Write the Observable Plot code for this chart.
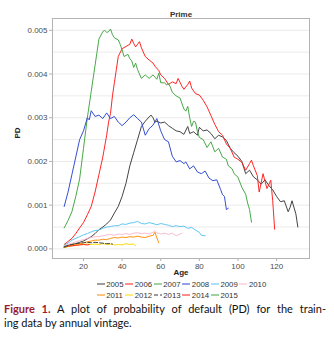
<!DOCTYPE html>
<html>
<head>
<meta charset="utf-8">
<script src="https://cdn.jsdelivr.net/npm/d3@7"></script>
<script src="https://cdn.jsdelivr.net/npm/@observablehq/plot@0.6"></script>
<style>
  html, body { margin: 0; padding: 0; background: #fff; }
  #wrap { position: relative; width: 334px; height: 344px; overflow: hidden; }
  #chart { position: absolute; left: 0; top: 0; }
  #legend { position: absolute; left: 96.7px; top: 280px; font-family: "Liberation Sans", Arial, sans-serif; font-size: 7.8px; color: #333; line-height: 10.7px; white-space: nowrap; }
  .row { height: 10.7px; }
  .item { display: inline-block; width: 28.55px; }
  .item svg { vertical-align: middle; margin-right: 1.5px; position: relative; top: -1px; }
  #caption { position: absolute; left: 4px; top: 302px; width: 322px; font-family: Lato, sans-serif; font-size: 11px; line-height: 14px; color: #111; }
  #caption .l1 { text-align: justify; text-align-last: justify; white-space: nowrap; }
  #caption b { color: #9b1b30; }
</style>
</head>
<body>
<div id="wrap">
  <div id="chart"></div>
  <div id="legend"></div>
  <div id="caption"><div class="l1"><b>Figure 1.</b> A plot of probability of default (PD) for the train-</div><div>ing data by annual vintage.</div></div>
</div>
<script>
const vintages = ["2005","2006","2007","2008","2009","2010","2011","2012","2013","2014","2015"];
const colors = ["#3a3a3a","#ff1a1a","#3fa33f","#2a45d0","#55c3f2","#f7b8cc","#ff8c00","#ffd700","#3a3a3a","#ff1a1a","#3fa33f"];
const yTicks = [0, 0.001, 0.002, 0.003, 0.004, 0.005];
const yGrid = [0, 0.0005, 0.001, 0.0015, 0.002, 0.0025, 0.003, 0.0035, 0.004, 0.0045, 0.005];
const xTicks = [20, 40, 60, 80, 100, 120];

const age2005 = [10,12,14,16,18,20,22,24,26,28,30,32,34,36,38,40,42,44,46,48,50,52,54,55,56,57,58,60,62,64,66,68,70,72,74,75,77,79,80,82,84,86,88,90,92,94,96,98,100,102,104,106,108,110,112,114,116,118,120,122,124,126,127,128,130,131];
const pd2005 = [0.00004,0.00008,0.0001,0.00012,0.00015,0.00018,0.00023,0.00028,0.00035,0.00044,0.0005,0.00057,0.00066,0.00082,0.00097,0.0012,0.0015,0.0019,0.0022,0.0025,0.0028,0.00292,0.00302,0.00306,0.003,0.0029,0.00292,0.00288,0.0029,0.00282,0.00276,0.0027,0.00268,0.00262,0.0028,0.00264,0.00268,0.0026,0.00278,0.0027,0.00272,0.00264,0.00252,0.0026,0.00256,0.00248,0.0023,0.0022,0.00212,0.002,0.00172,0.0018,0.00165,0.00158,0.00148,0.00158,0.00145,0.00135,0.0012,0.00108,0.0011,0.00085,0.00095,0.0011,0.0008,0.0005];

const age2006 = [10,12,14,16,18,20,22,24,26,28,30,32,33,34,35,36,37,38,40,42,44,45,46,47,48,49,50,52,54,56,57,59,60,62,64,66,68,69,71,72,74,75,76,78,80,82,84,86,88,90,92,94,96,98,100,102,104,106,107,108,110,111,113,115,117,118,119];
const pd2006 = [0.0001,0.00017,0.00024,0.00035,0.00048,0.0006,0.00078,0.00097,0.0013,0.0017,0.0021,0.0026,0.0029,0.0031,0.0035,0.0038,0.0041,0.0044,0.00458,0.00463,0.00468,0.0048,0.0047,0.00462,0.00468,0.00474,0.0046,0.0044,0.00432,0.00425,0.00418,0.00408,0.00398,0.0039,0.00376,0.00382,0.00378,0.0039,0.00372,0.00365,0.00376,0.00384,0.00368,0.00355,0.00352,0.0034,0.00325,0.00305,0.00285,0.00268,0.0026,0.0024,0.0023,0.0021,0.00205,0.00198,0.0018,0.00195,0.00203,0.0019,0.00168,0.0013,0.00172,0.00138,0.00157,0.0011,0.00045];

const age2007 = [10,12,14,16,18,20,22,24,26,27,28,30,31,32,33,34,35,36,38,39,40,41,43,44,45,46,47,48,50,52,54,56,58,59,60,62,63,64,65,66,68,70,72,73,74,75,76,77,78,79,80,82,84,86,88,90,92,94,95,97,98,100,102,104,105,106,107];
const pd2007 = [0.00048,0.00065,0.00085,0.0012,0.0016,0.0023,0.003,0.0036,0.0042,0.0045,0.0048,0.00497,0.005,0.00495,0.00497,0.00503,0.0049,0.00483,0.00478,0.00468,0.00455,0.0044,0.00445,0.00435,0.0043,0.00415,0.00425,0.0041,0.0039,0.00398,0.0039,0.00398,0.00388,0.00402,0.0038,0.0038,0.00375,0.00378,0.0037,0.00358,0.0035,0.00345,0.0032,0.00315,0.00326,0.003,0.0028,0.00292,0.0029,0.00268,0.00255,0.0025,0.00232,0.00245,0.00222,0.0023,0.0021,0.00205,0.0019,0.00183,0.00172,0.00164,0.00141,0.00125,0.00105,0.0009,0.00061];

const age2008 = [10,12,14,16,18,20,22,23,24,26,28,30,32,34,36,38,40,42,44,46,48,50,52,54,56,58,60,62,64,66,68,70,72,73,75,77,79,81,83,85,87,89,91,92,93,94,95];
const pd2008 = [0.00097,0.0013,0.0017,0.0021,0.0025,0.0027,0.003,0.00295,0.00316,0.00303,0.00306,0.00298,0.00311,0.00298,0.00303,0.0029,0.00282,0.0029,0.003,0.00307,0.00298,0.0029,0.0026,0.00275,0.00283,0.00298,0.0027,0.0025,0.00245,0.00212,0.00199,0.00202,0.00195,0.00199,0.00183,0.0019,0.00176,0.00172,0.00178,0.00162,0.00156,0.00158,0.00136,0.00124,0.0012,0.0009,0.00093];

const age2009 = [10,12,14,16,18,20,22,24,26,28,30,32,34,36,38,40,42,44,46,48,50,52,54,56,58,60,62,64,66,68,70,72,74,76,78,80,81,83];
const pd2009 = [0.00008,0.00013,0.0002,0.00024,0.00028,0.00032,0.00035,0.00039,0.00042,0.00043,0.00047,0.0005,0.00051,0.00053,0.00053,0.00057,0.00056,0.00059,0.0006,0.00063,0.00058,0.00057,0.0006,0.00058,0.00055,0.00058,0.00056,0.00054,0.00051,0.00053,0.00051,0.00052,0.00047,0.00049,0.00043,0.00038,0.00031,0.0003];

const age2010 = [10,12,14,16,18,20,22,24,26,28,30,32,34,36,38,40,42,44,46,48,50,52,54,56,57,58,60,62,64,66,68,70,71];
const pd2010 = [0.00006,0.0001,0.00013,0.00016,0.00019,0.00021,0.00024,0.00026,0.00028,0.00028,0.0003,0.00032,0.00033,0.00031,0.00034,0.00033,0.00035,0.00033,0.00036,0.00037,0.00035,0.00036,0.00034,0.00038,0.00042,0.00037,0.00034,0.00036,0.00033,0.00036,0.0003,0.00034,0.00036];

const age2011 = [10,12,14,16,18,20,22,24,26,28,30,32,34,36,38,40,42,44,46,48,50,52,54,56,57,58,59];
const pd2011 = [0.00004,0.00006,0.00008,0.0001,0.00012,0.00014,0.00016,0.00018,0.0002,0.0002,0.00022,0.00021,0.00024,0.00026,0.00025,0.00027,0.00026,0.00028,0.00027,0.00029,0.00027,0.00026,0.00029,0.00031,0.00038,0.00025,0.00014];

const age2012 = [10,12,14,16,18,20,22,24,26,28,30,32,34,36,38,40,42,44,46,47];
const pd2012 = [0.00003,0.00005,0.00007,0.00008,0.0001,0.0001,0.00011,0.0001,0.00011,0.0001,0.00012,0.0001,0.00011,0.00009,0.0001,0.00009,0.00012,0.0001,0.00011,0.00007];

const age2013 = [10,12,14,16,18,20,22,24,26,28,30,32,34,35];
const pd2013 = [0.00005,0.00008,0.0001,0.00012,0.00013,0.00014,0.00015,0.00014,0.00015,0.00014,0.00013,0.00012,0.00012,0.00011];

const age2014 = [10,12,14,16,18,20,22,23];
const pd2014 = [0.00004,0.00006,0.00007,0.00008,0.00009,0.0001,0.00009,0.0001];

const age2015 = [10,11];
const pd2015 = [0.00004,0.00005];

const ageLists = [age2005,age2006,age2007,age2008,age2009,age2010,age2011,age2012,age2013,age2014,age2015];
const pdLists = [pd2005,pd2006,pd2007,pd2008,pd2009,pd2010,pd2011,pd2012,pd2013,pd2014,pd2015];

const rows = [];
vintages.forEach((v, i) => {
  ageLists[i].forEach((a, j) => rows.push({vintage: v, age: a, pd: pdLists[i][j]}));
});

const chart = Plot.plot({
  width: 334,
  height: 280,
  marginLeft: 52,
  marginRight: 25,
  marginTop: 18,
  marginBottom: 22,
  style: {fontFamily: "'Liberation Sans', Arial, sans-serif", fontSize: "8px", background: "#fff"},
  x: {domain: [3.95, 137.05]},
  y: {domain: [-0.00022, 0.00527]},
  color: {domain: vintages, range: colors},
  marks: [
    Plot.ruleY(yGrid, {stroke: "#ebebeb", strokeWidth: 1}),
    Plot.frame({stroke: "#b3b3b3"}),
    Plot.axisY(yTicks, {tickSize: 3, tickPadding: 2, tickFormat: d3.format(".3f"), label: null, stroke: "#b3b3b3", fill: "#4d4d4d", fontSize: 8}),
    Plot.axisX(xTicks, {tickSize: 3, tickPadding: 2, label: null, stroke: "#b3b3b3", fill: "#4d4d4d", fontSize: 8}),
    Plot.line(rows.filter(d => d.vintage !== "2013"), {x: "age", y: "pd", z: "vintage", stroke: "vintage", strokeWidth: 0.95}),
    Plot.line(rows.filter(d => d.vintage === "2013"), {x: "age", y: "pd", z: "vintage", stroke: "vintage", strokeWidth: 0.95, strokeDasharray: "4,2"}),
    Plot.text(["Prime"], {frameAnchor: "top", dy: -7, fontWeight: "bold", fontSize: 8, fill: "#333"}),
    Plot.text(["Age"], {frameAnchor: "bottom", dy: 16.5, fontWeight: "bold", fontSize: 8, fill: "#222"}),
    Plot.text(["PD"], {frameAnchor: "left", dx: -35, rotate: -90, fontWeight: "bold", fontSize: 8, fill: "#222"})
  ]
});
document.getElementById("chart").appendChild(chart);

const legend = document.getElementById("legend");
const rowsSpec = [vintages.slice(0, 6), vintages.slice(6)];
rowsSpec.forEach(r => {
  const div = document.createElement("div");
  div.className = "row";
  r.forEach(v => {
    const i = vintages.indexOf(v);
    const dash = v === "2013" ? ' stroke-dasharray="4,2"' : "";
    const span = document.createElement("span");
    span.className = "item";
    span.innerHTML = `<svg width="8" height="4"><line x1="0" y1="2" x2="8" y2="2" stroke="${colors[i]}" stroke-width="1"${dash}/></svg>${v}`;
    div.appendChild(span);
  });
  legend.appendChild(div);
});
</script>
</body>
</html>
